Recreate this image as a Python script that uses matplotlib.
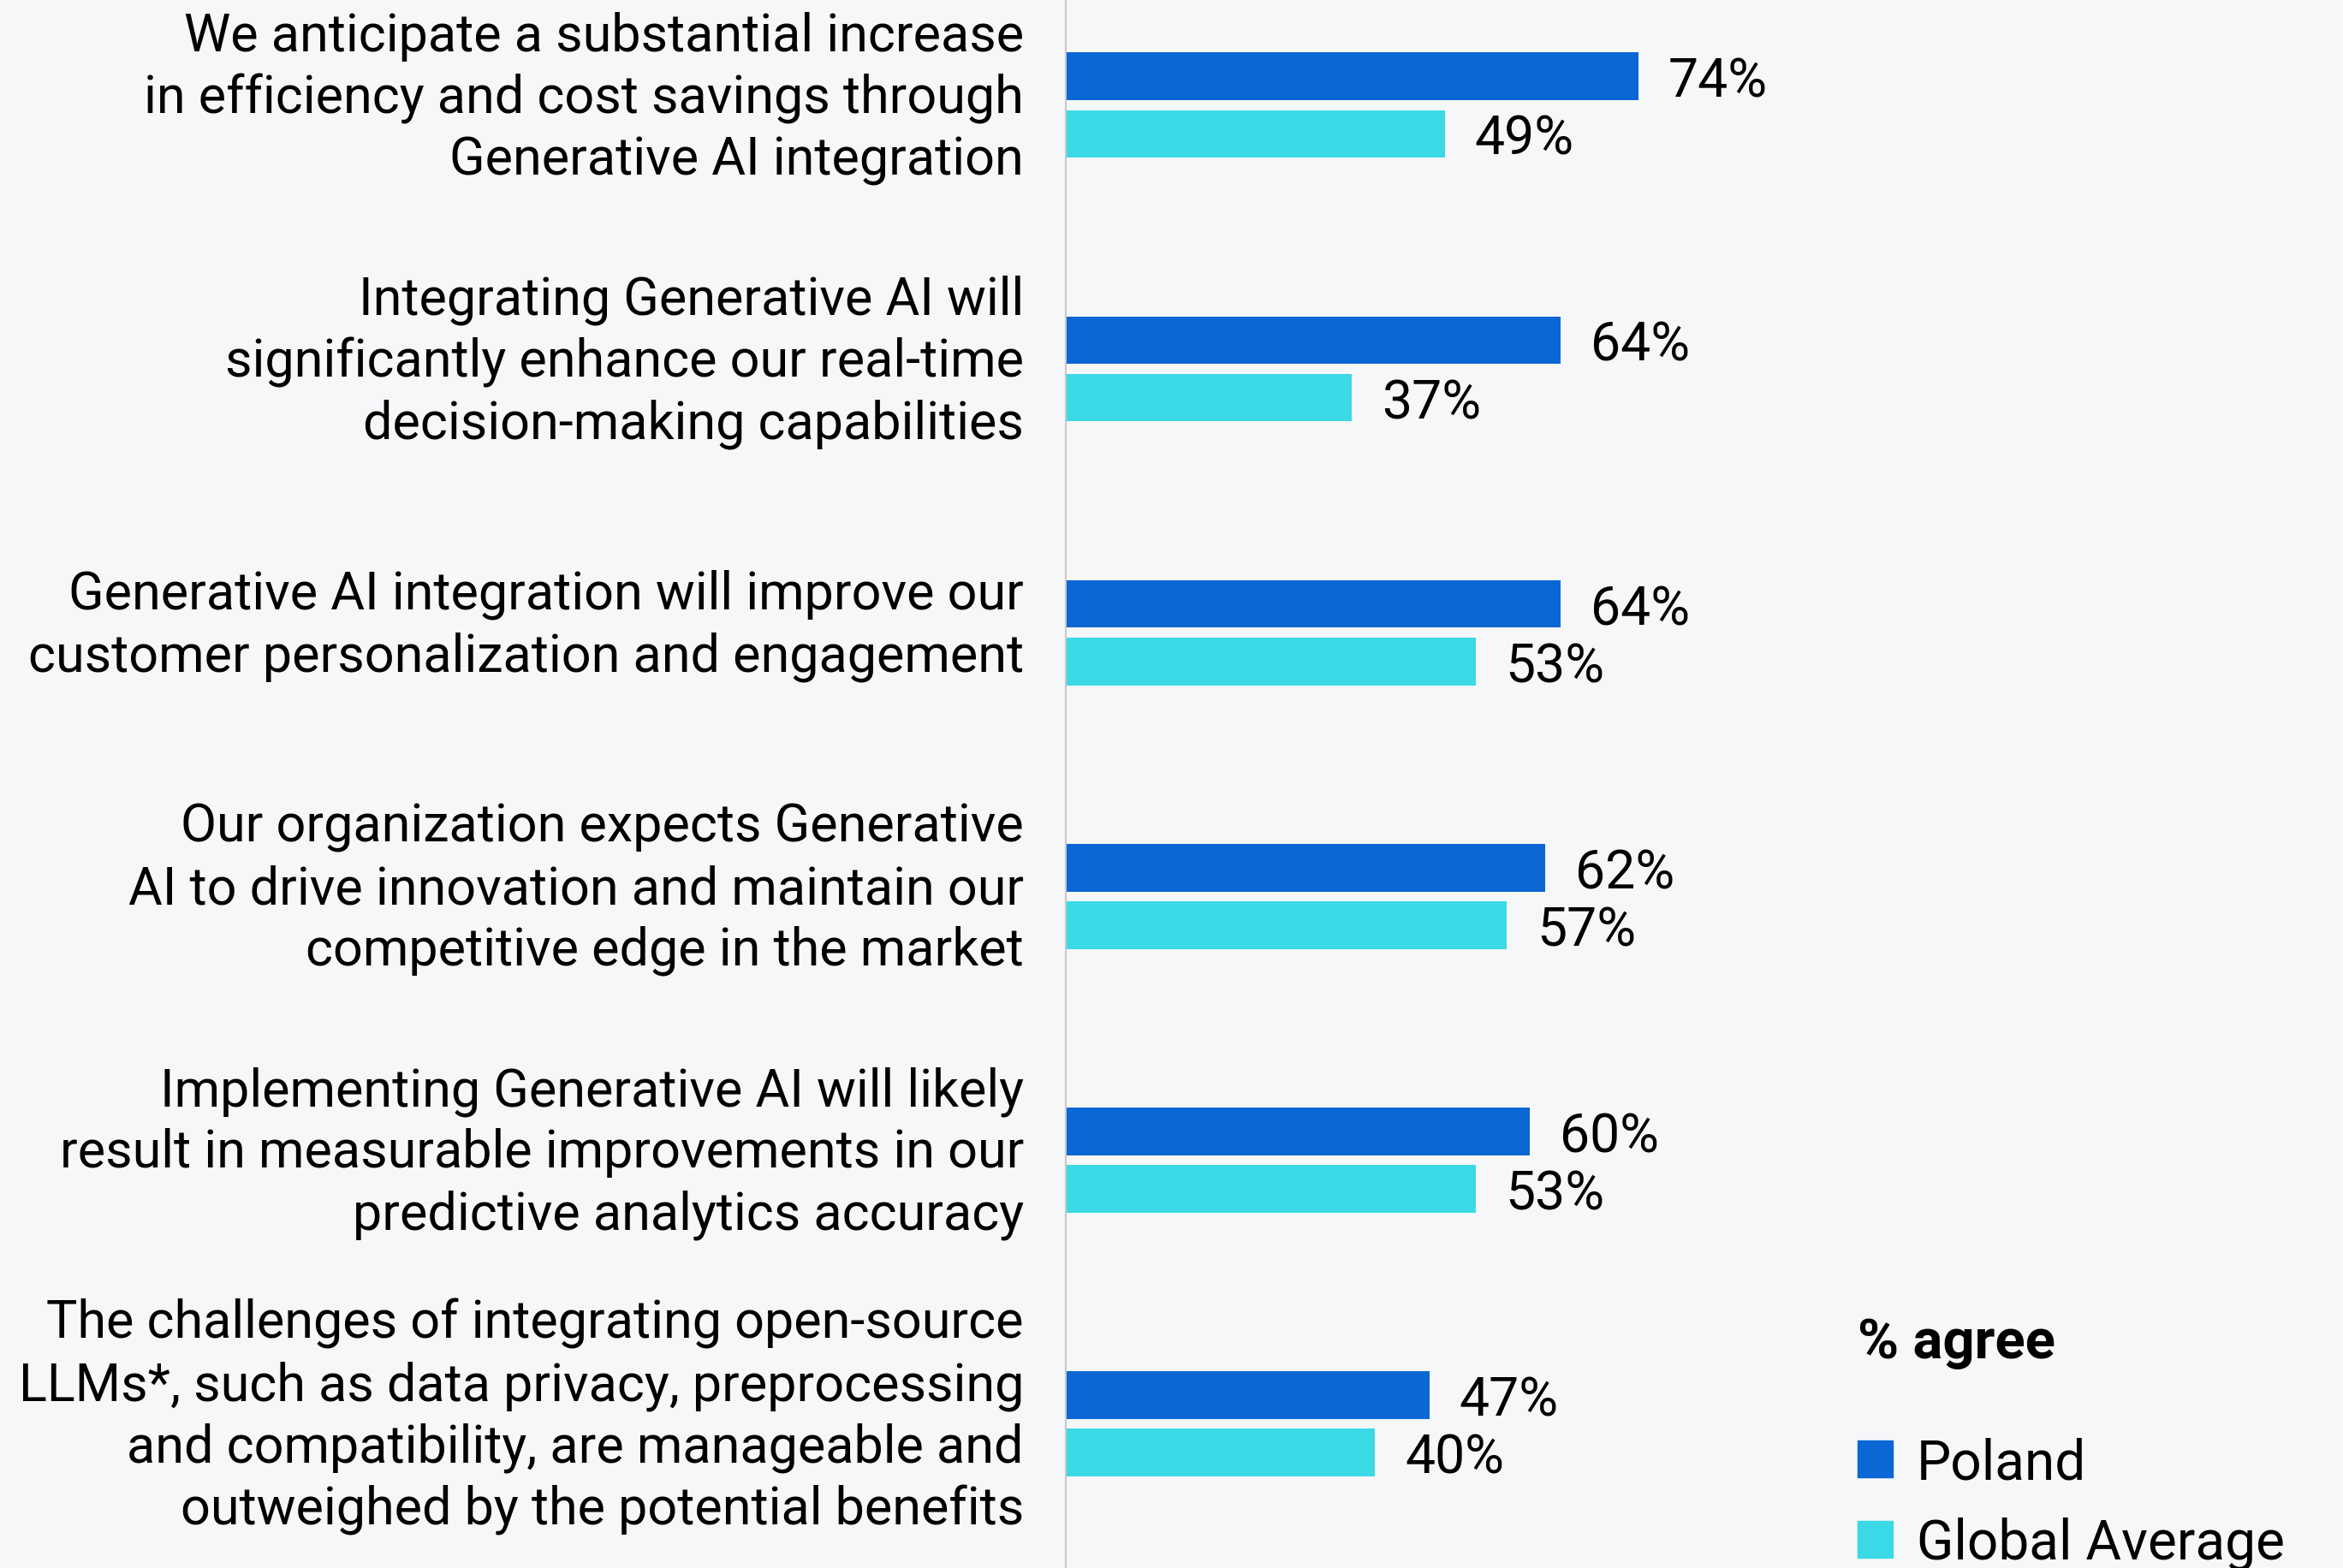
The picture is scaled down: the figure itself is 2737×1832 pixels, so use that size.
import matplotlib

matplotlib.use("Agg")
import matplotlib.pyplot as plt
from matplotlib.patches import Patch
from matplotlib.transforms import ScaledTranslation

# statements, top to bottom
STATEMENTS = [
    "We anticipate a substantial increase\nin efficiency and cost savings through\nGenerative AI integration",
    "Integrating Generative AI will\nsignificantly enhance our real-time\ndecision-making capabilities",
    "Generative AI integration will improve our\ncustomer personalization and engagement",
    "Our organization expects Generative\nAI to drive innovation and maintain our\ncompetitive edge in the market",
    "Implementing Generative AI will likely\nresult in measurable improvements in our\npredictive analytics accuracy",
    "The challenges of integrating open-source\nLLMs*, such as data privacy, preprocessing\nand compatibility, are manageable and\noutweighed by the potential benefits",
]
POLAND = [74, 64, 64, 62, 60, 47]
GLOBAL_AVG = [49, 37, 53, 57, 53, 40]
SERIES_NAMES = ["Poland", "Global Average"]
LEGEND_TITLE = "% agree"

BG = "#f6f7f9"
C_POLAND = "#0a67d3"
C_GLOBAL = "#3bd9e5"

plt.rcParams["font.family"] = ["Roboto", "DejaVu Sans"]

fig = plt.figure(figsize=(27.37, 18.33), dpi=100, facecolor=BG)
ax = fig.add_axes([0.4547, 0.0, 0.5453, 1.0], facecolor=BG)

ys = list(range(len(STATEMENTS)))
off = 0.109
h = 0.181
b1 = ax.barh([y - off for y in ys], POLAND, height=h, color=C_POLAND)
b2 = ax.barh([y + off for y in ys], GLOBAL_AVG, height=h, color=C_GLOBAL)

for bars, vals in ((b1, POLAND), (b2, GLOBAL_AVG)):
    texts = ax.bar_label(bars, labels=[f"{v}%" for v in vals], padding=25, fontsize=45)
    for t in texts:
        t.set_va("center_baseline")

ax.set_xlim(0, 165)
ax.set_ylim(5.547, -0.402)
ax.set_yticks(ys)
ax.set_yticklabels(STATEMENTS, fontsize=44, ha="right", multialignment="right",
                   linespacing=1.3)
ax.tick_params(axis="y", length=0, pad=35)
# nudge the statements up a touch, they sit slightly above the bar pair
shift = ScaledTranslation(0, 0.22, fig.dpi_scale_trans)
for lab in ax.get_yticklabels():
    lab.set_transform(lab.get_transform() + shift)
ax.set_xticks([])
for side in ("top", "right", "bottom"):
    ax.spines[side].set_visible(False)
ax.spines["left"].set_color("#c8c8c8")
ax.spines["left"].set_linewidth(1.5)

# legend: bold heading on its own, then the two swatches
ax.text(0.620, 0.1438, LEGEND_TITLE, transform=ax.transAxes, fontsize=47,
        fontweight="bold", ha="left", va="center")
handles = [Patch(color=C_POLAND), Patch(color=C_GLOBAL)]
ax.legend(handles, SERIES_NAMES, loc="upper left", bbox_to_anchor=(0.620, 0.084),
          frameon=False, fontsize=46, handlelength=0.65, handleheight=0.65,
          handletextpad=0.43, labelspacing=0.5, borderpad=0, borderaxespad=0)

fig.savefig("out.png", dpi=100, facecolor=BG)
